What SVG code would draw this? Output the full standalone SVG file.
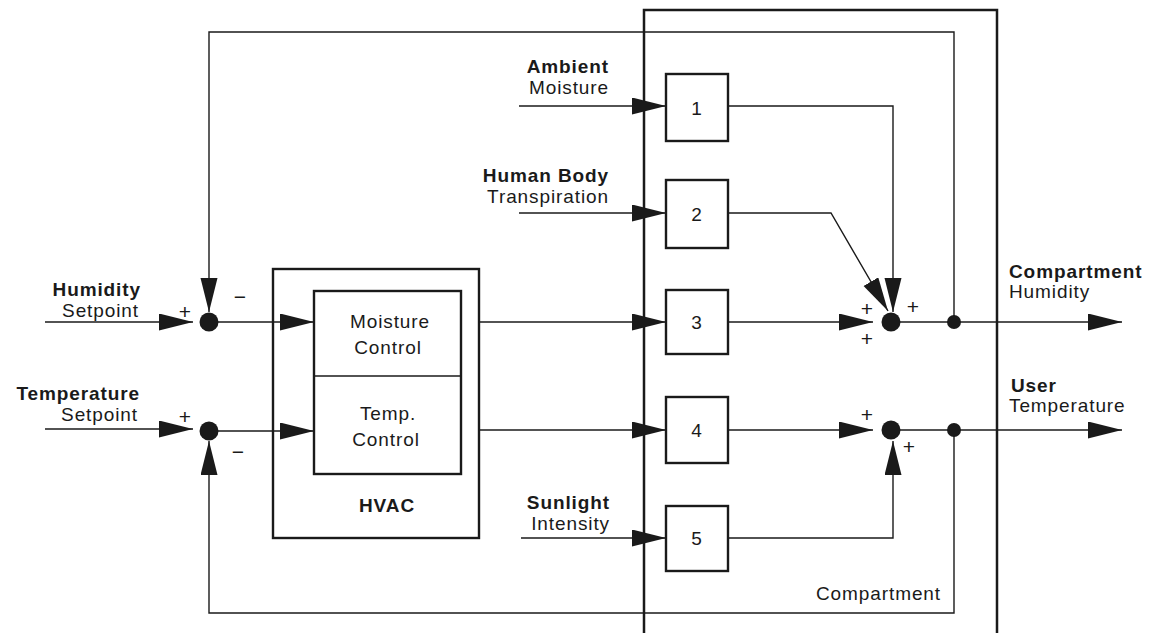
<svg xmlns="http://www.w3.org/2000/svg" width="1152" height="633" viewBox="0 0 1152 633">
<defs>
<marker id="arr" markerUnits="userSpaceOnUse" markerWidth="36" markerHeight="18" refX="34" refY="8.5" orient="auto">
<path d="M0,0 L34,8.5 L0,17 z" fill="#1a1a1a"/>
</marker>
<style>
.ln{fill:none;stroke:#1a1a1a;stroke-width:1.4}
.arr{marker-end:url(#arr)}
.box{fill:none;stroke:#1a1a1a;stroke-width:2.4}
.t{font-family:"Liberation Sans",Arial,sans-serif;font-size:19px;letter-spacing:0.9px;fill:#1a1a1a}
.b{font-weight:bold}
.s{font-family:"Liberation Sans",Arial,sans-serif;font-size:21px;fill:#1a1a1a;text-anchor:middle}
.e{text-anchor:end}
.m{text-anchor:middle}
</style>
</defs>
<rect width="1152" height="633" fill="#fff"/>

<g id="compartment">
<path d="M644,633 V10 H997 V633" fill="none" stroke="#1a1a1a" stroke-width="2.5"/>
<text class="t e" x="941" y="600">Compartment</text>
</g>

<g id="hvac">
<rect class="box" x="273" y="269" width="206" height="269"/>
<rect class="box" x="314" y="291" width="147" height="183"/>
<line x1="314" y1="376" x2="461" y2="376" stroke="#1a1a1a" stroke-width="1.3"/>
<text class="t m" x="390" y="328">Moisture</text>
<text class="t m" x="388" y="354">Control</text>
<text class="t m" x="388" y="420">Temp.</text>
<text class="t m" x="386" y="446">Control</text>
<text class="t b m" x="387" y="512">HVAC</text>
</g>

<g id="connectors">
<path class="ln arr" d="M954,322 V32 H209 V312"/>
<path class="ln arr" d="M954,430 V613 H209 V441"/>
<path class="ln arr" d="M45,322 H193"/>
<path class="ln arr" d="M45,429 H193"/>
<path class="ln arr" d="M209,322 H314"/>
<path class="ln arr" d="M209,431 H314"/>
<path class="ln arr" d="M479,322 H666"/>
<path class="ln arr" d="M479,430 H666"/>
<path class="ln arr" d="M519,106 H666"/>
<path class="ln arr" d="M519,213 H666"/>
<path class="ln arr" d="M521,538 H666"/>
<path class="ln arr" d="M728,106 H893 V312"/>
<path class="ln arr" d="M728,213 H831 L888,311"/>
<path class="ln arr" d="M728,322 H873"/>
<path class="ln arr" d="M728,430 H873"/>
<path class="ln arr" d="M728,538 H893 V441"/>
<path class="ln arr" d="M891,322 H1122"/>
<path class="ln arr" d="M891,430 H1122"/>
</g>

<g id="sum-humidity-in">
<circle cx="209" cy="322" r="9.5" fill="#1a1a1a"/>
<text class="s" x="185" y="319">+</text>
<text class="s" x="240" y="304">−</text>
</g>
<g id="sum-temperature-in">
<circle cx="209" cy="431" r="9.5" fill="#1a1a1a"/>
<text class="s" x="185" y="424">+</text>
<text class="s" x="238" y="459">−</text>
</g>

<g id="label-humidity-setpoint">
<text class="t b e" x="141" y="296">Humidity</text>
<text class="t e" x="139" y="317">Setpoint</text>
</g>
<g id="label-temperature-setpoint">
<text class="t b e" x="140" y="400">Temperature</text>
<text class="t e" x="138" y="421">Setpoint</text>
</g>

<g id="label-ambient">
<text class="t b e" x="609" y="73">Ambient</text>
<text class="t e" x="609" y="94">Moisture</text>
</g>
<g id="label-human">
<text class="t b e" x="609" y="182">Human Body</text>
<text class="t e" x="609" y="203">Transpiration</text>
</g>
<g id="label-sunlight">
<text class="t b e" x="610" y="509">Sunlight</text>
<text class="t e" x="610" y="530">Intensity</text>
</g>

<g id="block1"><rect class="box" x="666" y="74" width="62" height="67"/><text class="t m" x="697" y="115">1</text></g>
<g id="block2"><rect class="box" x="666" y="180" width="62" height="68"/><text class="t m" x="697" y="221">2</text></g>
<g id="block3"><rect class="box" x="666" y="290" width="62" height="64"/><text class="t m" x="697" y="329">3</text></g>
<g id="block4"><rect class="box" x="666" y="397" width="62" height="66"/><text class="t m" x="697" y="437">4</text></g>
<g id="block5"><rect class="box" x="666" y="506" width="62" height="65"/><text class="t m" x="697" y="545">5</text></g>

<g id="sum-humidity-out">
<circle cx="891" cy="322" r="9.5" fill="#1a1a1a"/>
<text class="s" x="867" y="316">+</text>
<text class="s" x="867" y="346">+</text>
<text class="s" x="913" y="314">+</text>
</g>
<g id="sum-temperature-out">
<circle cx="891" cy="430" r="9.5" fill="#1a1a1a"/>
<text class="s" x="867" y="422">+</text>
<text class="s" x="909" y="454">+</text>
</g>
<g id="branch-humidity"><circle cx="954" cy="322" r="7" fill="#1a1a1a"/></g>
<g id="branch-temperature"><circle cx="954" cy="430" r="7" fill="#1a1a1a"/></g>

<g id="label-compartment-humidity">
<text class="t b" x="1009" y="278">Compartment</text>
<text class="t" x="1009" y="298">Humidity</text>
</g>
<g id="label-user-temperature">
<text class="t b" x="1011" y="392">User</text>
<text class="t" x="1009" y="412">Temperature</text>
</g>
</svg>
